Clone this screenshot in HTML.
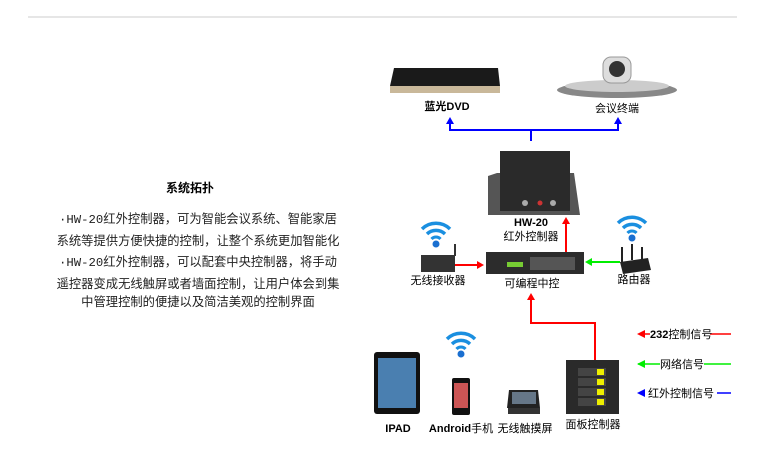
<!DOCTYPE html>
<html><head><meta charset="utf-8"><style>
body{margin:0;background:#fff;width:764px;height:452px;overflow:hidden;font-family:"Liberation Sans","Noto Sans CJK SC",sans-serif}
</style></head><body>
<svg width="764" height="452" xmlns="http://www.w3.org/2000/svg" font-family="Liberation Sans, Noto Sans CJK SC, sans-serif">
<defs>
<g id="wifi"><path d="M-14,-6 A20,20 0 0 1 14,-6" stroke="#1a8fe0" stroke-width="3.5" fill="none"/><path d="M-9,-1 A13,13 0 0 1 9,-1" stroke="#1a8fe0" stroke-width="3.5" fill="none"/><path d="M-4.5,4 A6,6 0 0 1 4.5,4" stroke="#1a8fe0" stroke-width="3" fill="none"/><circle cx="0" cy="9" r="3.5" fill="#1a6fd0"/></g>
</defs>
<line x1="28" y1="17" x2="737" y2="17" stroke="#ccc"/>
<text x="190" y="192" font-size="12" font-weight="bold" text-anchor="middle">系统拓扑</text>
<g font-size="12.3" fill="#222" text-anchor="middle" font-family="Liberation Mono, Noto Sans CJK SC, monospace">
<text x="198" y="223">·HW-20红外控制器，可为智能会议系统、智能家居</text>
<text x="198" y="245">系统等提供方便快捷的控制，让整个系统更加智能化</text>
<text x="198" y="266">·HW-20红外控制器，可以配套中央控制器，将手动</text>
<text x="198" y="288">遥控器变成无线触屏或者墙面控制，让用户体会到集</text>
<text x="198" y="306">中管理控制的便捷以及简洁美观的控制界面</text>
</g>
<!-- DVD -->
<path d="M394,68 L498,68 L500,86 L390,86 Z" fill="#1a1a1a"/><rect x="390" y="86" width="110" height="7" fill="#c9b89a"/>
<text x="447" y="110" font-size="11" font-weight="bold" text-anchor="middle">蓝光DVD</text>
<!-- camera -->
<ellipse cx="617" cy="90" rx="60" ry="8" fill="#888"/><ellipse cx="617" cy="86" rx="52" ry="6" fill="#ccc"/>
<rect x="603" y="57" width="28" height="26" rx="8" fill="#ddd" stroke="#999"/><circle cx="617" cy="69" r="8" fill="#333"/>
<text x="617" y="112" font-size="11" text-anchor="middle">会议终端</text>
<!-- blue lines -->
<g stroke="#0000ff" stroke-width="2" fill="none"><path d="M450,122 V130 H618 V122"/><path d="M531,130 V141"/></g>
<path d="M450,117 L446,124 L454,124Z M618,117 L614,124 L622,124Z" fill="#0000ff"/>
<!-- HW-20 -->
<path d="M497,173 L488,176 L488,215 L580,215 L574,173 Z" fill="#555"/>
<rect x="500" y="151" width="70" height="60" fill="#2a2a2a"/>
<circle cx="525" cy="203" r="3" fill="#aaa"/><circle cx="553" cy="203" r="3" fill="#aaa"/><circle cx="540" cy="203" r="2.5" fill="#c33"/>
<text x="531" y="226" font-size="11" font-weight="bold" text-anchor="middle">HW-20</text>
<text x="531" y="240" font-size="11" text-anchor="middle">红外控制器</text>
<!-- red up to HW -->
<line x1="566" y1="252" x2="566" y2="223" stroke="#ff0000" stroke-width="2"/><path d="M566,217 L562,224 L570,224Z" fill="#f00"/>
<!-- receiver -->
<use href="#wifi" x="436" y="235"/>
<rect x="421" y="255" width="34" height="17" fill="#333"/><rect x="454" y="244" width="2" height="12" fill="#333"/>
<text x="438" y="284" font-size="11" text-anchor="middle">无线接收器</text>
<line x1="455" y1="265" x2="478" y2="265" stroke="#f00" stroke-width="2"/><path d="M484,265 L477,261 L477,269Z" fill="#f00"/>
<!-- central -->
<rect x="486" y="252" width="98" height="22" fill="#2c2c2c"/><rect x="507" y="262" width="16" height="5" fill="#7c3"/>
<rect x="530" y="257" width="45" height="13" fill="#555"/>
<text x="532" y="287" font-size="11" text-anchor="middle">可编程中控</text>
<line x1="592" y1="262" x2="620" y2="262" stroke="#00ee00" stroke-width="2"/><path d="M585,262 L592,258 L592,266Z" fill="#0e0"/>
<!-- router -->
<use href="#wifi" x="632" y="229"/>
<path d="M620,262 L648,258 L651,270 L623,274Z" fill="#222"/>
<line x1="622" y1="262" x2="622" y2="247" stroke="#222" stroke-width="2"/><line x1="632" y1="260" x2="632" y2="244" stroke="#222" stroke-width="2"/><line x1="642" y1="259" x2="642" y2="247" stroke="#222" stroke-width="2"/>
<text x="634" y="283" font-size="11" text-anchor="middle">路由器</text>
<!-- red from panel -->
<path d="M595,360 V323 H531 V300" stroke="#f00" stroke-width="2" fill="none"/><path d="M531,293 L527,300 L535,300Z" fill="#f00"/>
<!-- panel -->
<rect x="566" y="360" width="53" height="54" fill="#2a2a2a"/>
<g fill="#444"><rect x="578" y="368" width="28" height="8"/><rect x="578" y="378" width="28" height="8"/><rect x="578" y="388" width="28" height="8"/><rect x="578" y="398" width="28" height="8"/></g>
<g fill="#ee0"><rect x="597" y="369" width="7" height="6"/><rect x="597" y="379" width="7" height="6"/><rect x="597" y="389" width="7" height="6"/><rect x="597" y="399" width="7" height="6"/></g>
<text x="593" y="428" font-size="11" text-anchor="middle">面板控制器</text>
<!-- legend -->
<line x1="710" y1="334" x2="731" y2="334" stroke="#f00" stroke-width="1.5"/><path d="M637,334 L645,330 L645,338Z" fill="#f00"/><line x1="644" y1="334" x2="650" y2="334" stroke="#f00" stroke-width="1.5"/>
<text x="650" y="338" font-size="11" font-weight="bold">232<tspan font-weight="normal">控制信号</tspan></text>
<line x1="638" y1="364" x2="660" y2="364" stroke="#0e0" stroke-width="1.5"/><line x1="704" y1="364" x2="731" y2="364" stroke="#0e0" stroke-width="1.5"/><path d="M637,364 L645,360 L645,368Z" fill="#0e0"/>
<text x="660" y="368" font-size="11">网络信号</text>
<line x1="717" y1="393" x2="731" y2="393" stroke="#00f" stroke-width="1.5"/><path d="M637,393 L645,389 L645,397Z" fill="#00f"/>
<text x="648" y="397" font-size="11">红外控制信号</text>
<!-- devices -->
<rect x="374" y="352" width="46" height="62" rx="3" fill="#111"/><rect x="378" y="358" width="38" height="50" fill="#4a7fb0"/>
<text x="398" y="432" font-size="11" font-weight="bold" text-anchor="middle">IPAD</text>
<use href="#wifi" x="461" y="345"/>
<rect x="452" y="378" width="18" height="37" rx="2" fill="#111"/><rect x="454" y="383" width="14" height="25" fill="#c55"/>
<text x="461" y="432" font-size="11" text-anchor="middle"><tspan font-weight="bold">Android</tspan>手机</text>
<path d="M509,390 L538,390 L540,408 L507,408Z" fill="#222"/><rect x="512" y="392" width="24" height="12" fill="#678"/><rect x="508" y="408" width="32" height="6" fill="#333"/>
<text x="525" y="432" font-size="11" text-anchor="middle">无线触摸屏</text>
</svg>
</body></html>
